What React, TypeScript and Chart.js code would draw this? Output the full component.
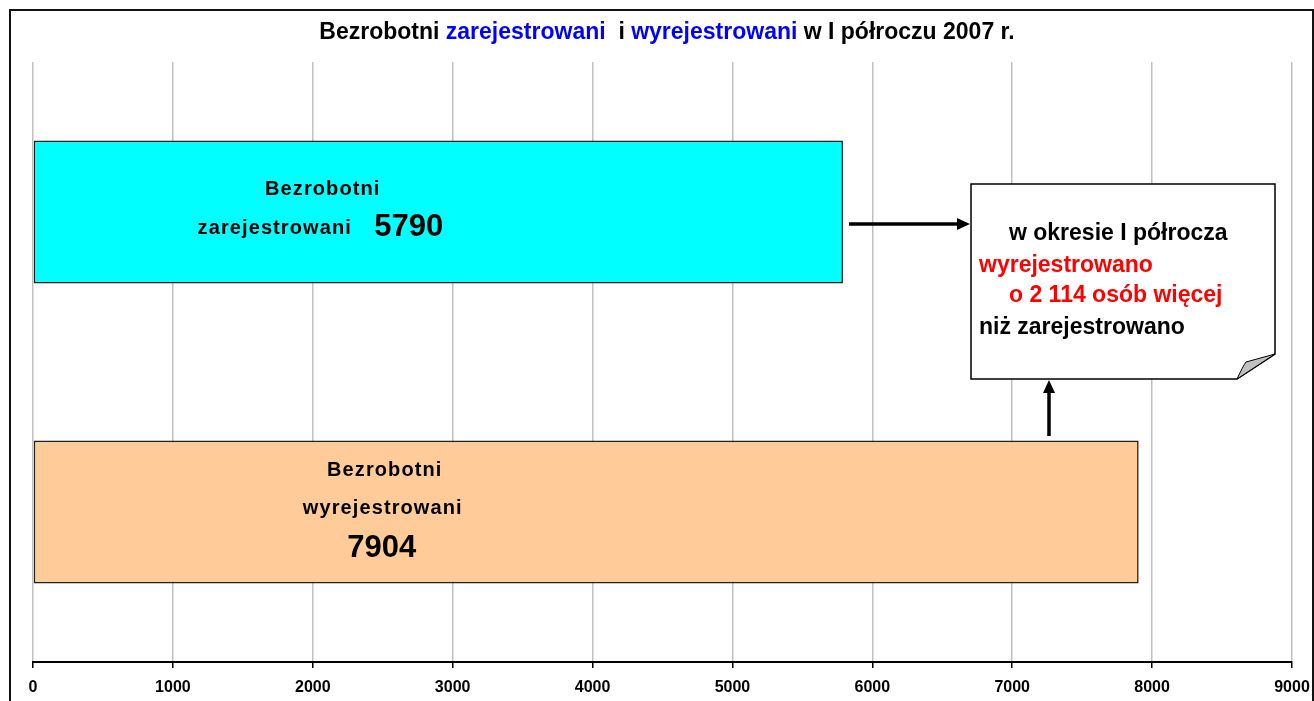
import React, { useEffect, useRef } from "react";
import { Chart, registerables } from "chart.js";

Chart.register(...registerables);

const labelPrefix = "Bezrobotni";
const categories = ["zarejestrowani", "wyrejestrowani"];
const values = [5790, 7904];
const barColors = ["#00FFFF", "#FFCC99"];
const xMin = 0;
const xMax = 9000;
const xStep = 1000;
const periodText = "w I półroczu 2007 r.";
const noteLine1 = "w okresie I półrocza";
const noteLine2 = "wyrejestrowano";
const noteLine4 = "niż zarejestrowano";

const FONT = "'Liberation Sans', Arial, Helvetica, sans-serif";

function fmtSpace(n: number): string {
  return String(n).replace(/\B(?=(\d{3})+(?!\d))/g, " ");
}

const annotPlugin = {
  id: "annot",
  beforeDraw(chart: any) {
    const ctx = chart.ctx;
    ctx.save();
    ctx.fillStyle = "#FFFFFF";
    ctx.fillRect(0, 0, chart.width, chart.height);
    ctx.restore();
  },
  afterDatasetsDraw(chart: any) {
    const ctx = chart.ctx;
    const meta = chart.getDatasetMeta(0);
    const b0 = meta.data[0];
    const b1 = meta.data[1];
    ctx.save();
    ctx.textBaseline = "middle";
    ctx.fillStyle = "#000";

    // labels in cyan bar
    const base0 = b0.base;
    ctx.textAlign = "center";
    ctx.font = `bold 20px ${FONT}`;
    (ctx as any).letterSpacing = "1.1px";
    ctx.fillText(labelPrefix, base0 + 289, b0.y - 23);
    ctx.fillText(categories[0], base0 + 241, b0.y + 16);
    (ctx as any).letterSpacing = "0px";
    ctx.font = `bold 31px ${FONT}`;
    ctx.fillText(String(values[0]), base0 + 375, b0.y + 15);

    // labels in orange bar
    const base1 = b1.base;
    ctx.font = `bold 20px ${FONT}`;
    (ctx as any).letterSpacing = "1.1px";
    ctx.fillText(labelPrefix, base1 + 351, b1.y - 42);
    ctx.fillText(categories[1], base1 + 349, b1.y - 4);
    (ctx as any).letterSpacing = "0px";
    ctx.font = `bold 31px ${FONT}`;
    ctx.fillText(String(values[1]), base1 + 348, b1.y + 36);

    // note box with folded corner
    const L = 971, T = 184, R = 1275, B = 379;
    ctx.beginPath();
    ctx.moveTo(L, T);
    ctx.lineTo(R, T);
    ctx.lineTo(R, 354);
    ctx.lineTo(1237, B);
    ctx.lineTo(L, B);
    ctx.closePath();
    ctx.fillStyle = "#FFFFFF";
    ctx.fill();
    ctx.lineWidth = 1.5;
    ctx.strokeStyle = "#000";
    ctx.stroke();
    ctx.beginPath();
    ctx.moveTo(1237, B);
    ctx.quadraticCurveTo(1243, 366, 1246, 362);
    ctx.lineTo(R, 354);
    ctx.closePath();
    ctx.fillStyle = "#C0C0C0";
    ctx.fill();
    ctx.lineWidth = 1;
    ctx.stroke();

    ctx.textAlign = "left";
    ctx.font = `bold 23px ${FONT}`;
    ctx.fillStyle = "#000";
    ctx.fillText(noteLine1, 1009, 234);
    ctx.fillStyle = "#FF0000";
    ctx.fillText(noteLine2, 979, 266);
    ctx.fillText(`o ${fmtSpace(values[1] - values[0])} osób więcej`, 1009, 296);
    ctx.fillStyle = "#000";
    ctx.fillText(noteLine4, 979, 328);

    // arrows
    const arrow = (x1: number, y1: number, x2: number, y2: number) => {
      const ang = Math.atan2(y2 - y1, x2 - x1);
      const hl = 13, hw = 6;
      const bx = x2 - hl * Math.cos(ang);
      const by = y2 - hl * Math.sin(ang);
      ctx.beginPath();
      ctx.moveTo(x1, y1);
      ctx.lineTo(bx, by);
      ctx.lineWidth = 3.5;
      ctx.strokeStyle = "#000";
      ctx.stroke();
      ctx.beginPath();
      ctx.moveTo(x2, y2);
      ctx.lineTo(bx + hw * Math.sin(ang), by - hw * Math.cos(ang));
      ctx.lineTo(bx - hw * Math.sin(ang), by + hw * Math.cos(ang));
      ctx.closePath();
      ctx.fillStyle = "#000";
      ctx.fill();
    };
    arrow(b0.x + 6, 224, L - 1, 224);
    arrow(1049, 436, 1049, B + 1);

    // title
    const parts: [string, string][] = [
      [labelPrefix + " ", "#000"],
      [categories[0], "#0000FF"],
      ["  i ", "#000"],
      [categories[1], "#0000FF"],
      [" " + periodText, "#000"],
    ];
    ctx.font = `bold 23px ${FONT}`;
    const total = parts.reduce((s, p) => s + ctx.measureText(p[0]).width, 0);
    let x = 667 - total / 2;
    ctx.textAlign = "left";
    for (const [t, c] of parts) {
      ctx.fillStyle = c;
      ctx.fillText(t, x, 33);
      x += ctx.measureText(t).width;
    }

    // outer frame
    ctx.lineWidth = 2;
    ctx.strokeStyle = "#111";
    ctx.strokeRect(10, 10, 1303, 720);
    ctx.restore();
  },
};

export default function App() {
  const ref = useRef<HTMLCanvasElement | null>(null);
  useEffect(() => {
    if (!ref.current) return;
    const chart = new Chart(ref.current, {
      type: "bar",
      data: {
        labels: categories.map((c) => `${labelPrefix} ${c}`),
        datasets: [
          {
            data: values,
            backgroundColor: barColors,
            borderColor: "#222",
            borderWidth: 1.6,
            borderSkipped: false,
            categoryPercentage: 1,
            barPercentage: 0.476,
          },
        ],
      },
      options: {
        indexAxis: "y",
        animation: false,
        responsive: false,
        maintainAspectRatio: false,
        layout: { padding: { left: 33, right: 22, top: 62, bottom: 0 } },
        plugins: { legend: { display: false }, tooltip: { enabled: false }, title: { display: false } },
        scales: {
          x: {
            type: "linear",
            min: xMin,
            max: xMax,
            ticks: {
              stepSize: xStep,
              color: "#000",
              font: { family: FONT, size: 16, weight: "bold" },
              padding: 10,
              maxRotation: 0,
              callback: (v: any) => String(v),
            },
            grid: { color: "#C0C0C0", lineWidth: 1.5, tickColor: "#000", tickLength: 6, drawTicks: true },
            border: { display: true, color: "#000", width: 2 },
            afterFit: (s: any) => {
              s.height = 39;
              s.paddingLeft = 0;
              s.paddingRight = 0;
            },
          },
          y: { display: false, grid: { display: false } },
        },
      },
      plugins: [annotPlugin],
    } as any);
    return () => chart.destroy();
  }, []);
  return (
    <div style={{ position: "fixed", left: 0, top: 0, width: 1314, height: 701 }}>
      <canvas ref={ref} width={1314} height={701} style={{ display: "block", width: 1314, height: 701 }} />
    </div>
  );
}
